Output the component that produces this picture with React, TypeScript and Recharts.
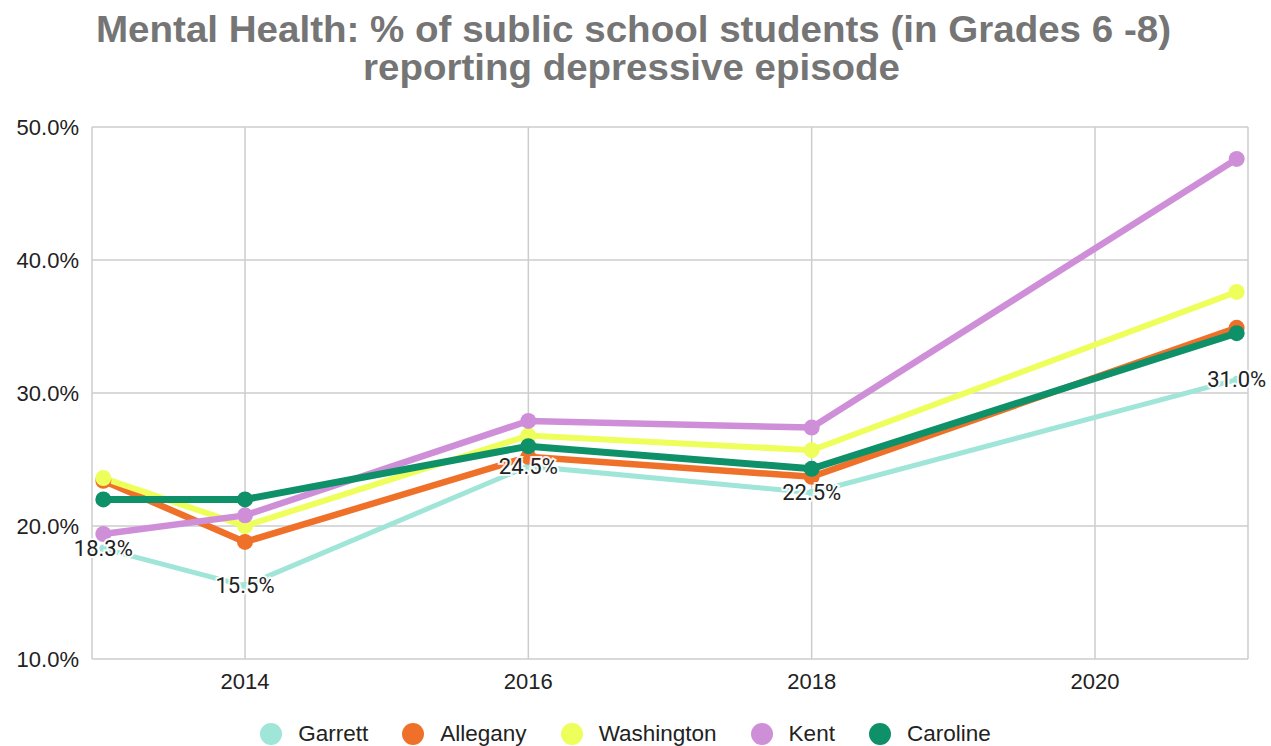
import React from 'react';
import { LineChart, Line, XAxis, YAxis, CartesianGrid, LabelList, Legend } from 'recharts';

const years = [2013, 2014, 2016, 2018, 2021];
const garrett = [18.3, 15.5, 24.5, 22.5, 31.0];
const allegany = [23.4, 18.8, 25.2, 23.7, 34.9];
const washington = [23.6, 20.0, 26.8, 25.7, 37.6];
const kent = [19.4, 20.8, 27.9, 27.4, 47.6];
const caroline = [22.0, 22.0, 26.0, 24.3, 34.5];

const seriesKeys = ['Garrett', 'Allegany', 'Washington', 'Kent', 'Caroline'];
const seriesColors = ['#9fe5d8', '#ef7129', '#eefe5a', '#cf8fd8', '#0e9068'];
const seriesWidths = [5, 6.5, 6, 6.5, 7];
const seriesValues = [garrett, allegany, washington, kent, caroline];

const xTicks = [2014, 2016, 2018, 2020];
const yTicks = [10, 20, 30, 40, 50];

const titleLine1 = 'Mental Health: % of sublic school students (in Grades 6 -8)';
const titleLine2 = 'reporting depressive episode';

const data = years.map((year, i) => {
  const row: Record<string, number> = { year };
  seriesKeys.forEach((k, j) => {
    row[k] = seriesValues[j][i];
  });
  return row;
});

const FONT = '"Liberation Sans", Arial, sans-serif';

const AuraLabel = (props: any) => {
  const { x, y, value } = props;
  if (x == null || y == null) return null;
  return (
    <text
      x={x}
      y={y}
      textAnchor="middle"
      dominantBaseline="central"
      fontFamily="Roboto, sans-serif"
      fontSize={22}
      fill="#222"
      stroke="#fff"
      strokeWidth={4}
      strokeOpacity={0.9}
      paintOrder="stroke"
    >
      {`${Number(value).toFixed(1)}%`}
    </text>
  );
};

const LegendContent = () => (
  <div
    style={{
      display: 'flex',
      justifyContent: 'center',
      alignItems: 'center',
      fontFamily: FONT,
      fontSize: 22.5,
      lineHeight: '24px',
      color: '#222',
      paddingRight: 20,
    }}
  >
    {seriesKeys.map((k, i) => (
      <div key={k} style={{ display: 'flex', alignItems: 'center', marginRight: i < seriesKeys.length - 1 ? 34 : 0 }}>
        <svg width={22} height={22} style={{ marginRight: 16 }}>
          <circle cx={11} cy={11} r={11} fill={seriesColors[i]} />
        </svg>
        <span>{k}</span>
      </div>
    ))}
  </div>
);

export default function App() {
  return (
    <div style={{ position: 'absolute', left: 0, top: 0, width: 1271, height: 746, background: '#fff' }}>
      <svg width={1271} height={110} style={{ position: 'absolute', left: 0, top: 0 }}>
        <text
          x={633.5}
          y={42}
          textAnchor="middle"
          fontFamily={FONT}
          fontWeight="bold"
          fontSize={37}
          fill="#757575"
          textLength={1075}
          lengthAdjust="spacingAndGlyphs"
        >
          {titleLine1}
        </text>
        <text
          x={631.5}
          y={80}
          textAnchor="middle"
          fontFamily={FONT}
          fontWeight="bold"
          fontSize={37}
          fill="#757575"
          textLength={537}
          lengthAdjust="spacingAndGlyphs"
        >
          {titleLine2}
        </text>
      </svg>
      <LineChart
        width={1271}
        height={746}
        data={data}
        margin={{ top: 127, right: 23, bottom: 47, left: 0 }}
        style={{ position: 'absolute', left: 0, top: 0 }}
      >
        <CartesianGrid stroke="#cccccc" strokeWidth={1.5} />
        <XAxis
          dataKey="year"
          type="number"
          domain={[2012.92, 2021.08]}
          ticks={xTicks}
          allowDataOverflow
          height={40}
          axisLine={false}
          tickLine={false}
          tickSize={0}
          tickMargin={14}
          tick={{ fontFamily: FONT, fontSize: 22, fill: '#222' }}
        />
        <YAxis
          type="number"
          domain={[10, 50]}
          ticks={yTicks}
          width={92}
          axisLine={false}
          tickLine={false}
          tickSize={0}
          tickMargin={13}
          tickFormatter={(v: number) => `${v.toFixed(1)}%`}
          tick={{ fontFamily: FONT, fontSize: 22, fill: '#222' }}
        />
        {seriesKeys.map((k, i) => (
          <Line
            key={k}
            dataKey={k}
            type="linear"
            stroke={seriesColors[i]}
            strokeWidth={seriesWidths[i]}
            dot={{ r: k === 'Garrett' ? 4 : 8, fill: seriesColors[i], stroke: 'none' }}
            activeDot={false}
            isAnimationActive={false}
          />
        ))}
        <Line
          dataKey="Garrett"
          stroke="none"
          dot={false}
          activeDot={false}
          legendType="none"
          isAnimationActive={false}
        >
          <LabelList dataKey="Garrett" content={AuraLabel} />
        </Line>
        <Legend
          layout="horizontal"
          verticalAlign="middle"
          align="center"
          content={LegendContent}
          wrapperStyle={{ top: 722, left: 0, width: 1271, height: 24 }}
        />
      </LineChart>
    </div>
  );
}
